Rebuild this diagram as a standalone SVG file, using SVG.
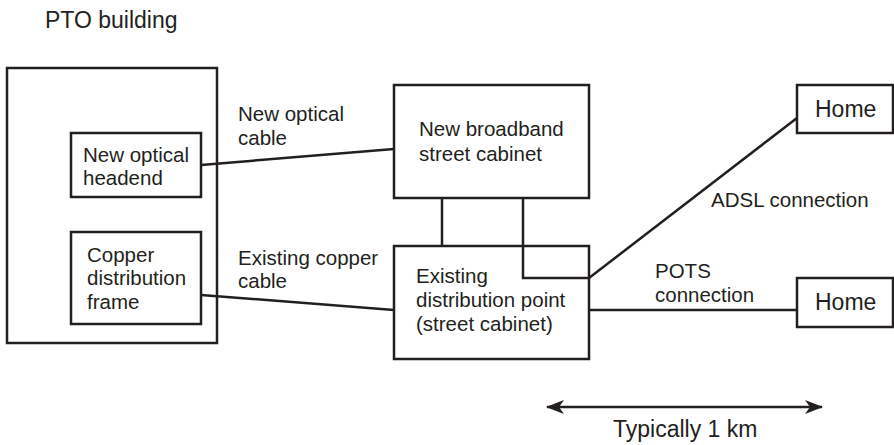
<svg xmlns="http://www.w3.org/2000/svg" width="894" height="445" viewBox="0 0 894 445">
<style>
text{font-family:"Liberation Sans",Arial,sans-serif;font-size:20.5px;fill:#231f20}
text.big{font-size:23px}
.box{fill:none;stroke:#231f20;stroke-width:2.5}
.ln{fill:none;stroke:#231f20;stroke-width:2.5}
</style>
<defs>
<marker id="ah" viewBox="0 0 18 14" refX="17" refY="7" markerWidth="18" markerHeight="14" markerUnits="userSpaceOnUse" orient="auto-start-reverse">
<path d="M0,0 L18,7 L0,14 L5,7 Z" fill="#231f20"/>
</marker>
</defs>
<rect width="894" height="445" fill="#fff"/>
<text class="big" x="45" y="28">PTO building</text>
<g id="pto">
<rect class="box" x="7" y="68" width="210" height="275"/>
</g>
<g id="headend">
<rect class="box" x="71" y="133" width="130" height="64"/>
<text x="83" y="162">New optical</text>
<text x="83" y="185">headend</text>
</g>
<g id="copperframe">
<rect class="box" x="71" y="232" width="130" height="92"/>
<text x="87" y="262">Copper</text>
<text x="87" y="285">distribution</text>
<text x="87" y="309">frame</text>
</g>
<g id="broadband">
<rect class="box" x="394" y="85" width="195" height="113"/>
<text x="419" y="136">New broadband</text>
<text x="419" y="161">street cabinet</text>
</g>
<g id="distpoint">
<rect class="box" x="394" y="246" width="195" height="113"/>
<text x="416" y="283">Existing</text>
<text x="416" y="307">distribution point</text>
<text x="416" y="331">(street cabinet)</text>
</g>
<g id="home1">
<rect class="box" x="797" y="85" width="96" height="48"/>
<text class="big" x="815" y="117">Home</text>
</g>
<g id="home2">
<rect class="box" x="797" y="278" width="96" height="49"/>
<text class="big" x="815" y="310">Home</text>
</g>
<g id="connectors">
<line class="ln" x1="201" y1="165" x2="394" y2="149"/>
<line class="ln" x1="201" y1="295" x2="394" y2="310"/>
<line class="ln" x1="442" y1="198" x2="442" y2="246"/>
<polyline class="ln" points="523,198 523,278 589,278 797,118"/>
<line class="ln" x1="589" y1="310" x2="797" y2="310"/>
<line class="ln" x1="547" y1="407" x2="822" y2="407" marker-start="url(#ah)" marker-end="url(#ah)"/>
</g>
<g id="labels">
<text x="238" y="121">New optical</text>
<text x="238" y="145">cable</text>
<text x="238" y="265">Existing copper</text>
<text x="238" y="288">cable</text>
<text x="711" y="207">ADSL connection</text>
<text x="655" y="278">POTS</text>
<text x="655" y="302">connection</text>
<text class="big" x="613" y="437">Typically 1 km</text>
</g>
</svg>
